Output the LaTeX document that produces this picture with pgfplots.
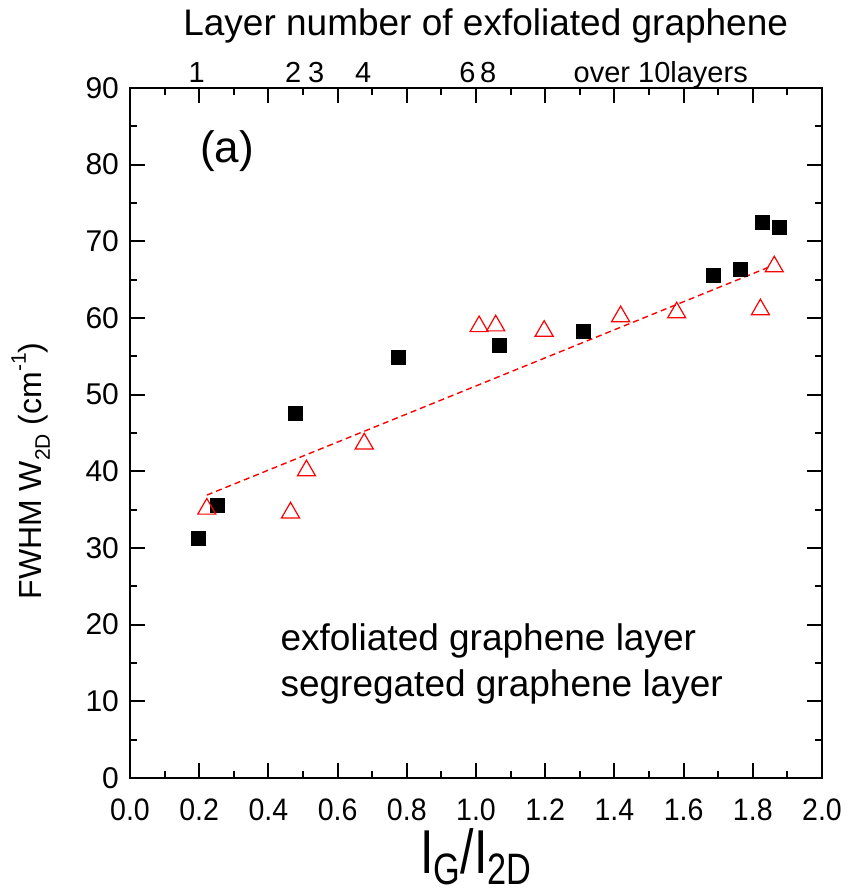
\documentclass[border=0pt]{standalone}
\usepackage{fontspec}
\setmainfont{Liberation Sans}
\newfontfamily\narrowfont[FakeStretch=0.78]{Liberation Sans}
\newfontfamily\tickfont[FakeStretch=0.92]{Liberation Sans}
\usepackage{pgfplots}
\pgfplotsset{compat=1.18}

\begin{document}
\begin{tikzpicture}
\begin{axis}[name=main,
  scale only axis, width=346pt, height=345pt,
  xmin=0, xmax=2, ymin=0, ymax=90,
  xtick={0,0.2,0.4,0.6,0.8,1.0,1.2,1.4,1.6,1.8,2.0},
  ytick={0,10,20,30,40,50,60,70,80,90},
  minor x tick num=1, minor y tick num=1,
  tick align=inside, major tick length=7.5pt, minor tick length=3.5pt,
  every tick/.style={line width=1pt, black},
  axis line style={line width=1.2pt},
  /pgf/number format/assume math mode=true,
  xticklabel={\pgfmathprintnumber[fixed,fixed zerofill,precision=1]{\tick}},
  xticklabel style={font=\tickfont\fontsize{15.5}{15.5}\selectfont, yshift=-7pt},
  yticklabel style={font=\fontsize{15}{15}\selectfont, xshift=-2pt},
  clip=false]

\addplot[red, line width=0.7pt, dash pattern=on 3pt off 2pt] coordinates {(0.222,36.9) (1.850,66.7)};

\addplot[only marks, mark=square*, mark size=3.5pt, black] coordinates {
(0.197,31.3) (0.253,35.5) (0.477,47.5) (0.776,54.8) (1.069,56.4)
(1.310,58.3) (1.687,65.6) (1.764,66.3) (1.829,72.5) (1.876,71.8)
};

\addplot[only marks, mark=triangle, mark size=5.2pt, red, mark options={line width=0.6pt}] coordinates {
(0.222,35.1) (0.464,34.6) (0.510,40.1) (0.677,43.6) (1.009,58.9) (1.057,59.0)
(1.197,58.3) (1.418,60.2) (1.580,60.7) (1.822,61.1) (1.862,66.7)
};

\node[anchor=west, inner sep=0pt, font=\fontsize{22}{22}\selectfont] at (axis cs:0.202,81.8) {(a)};
\node[anchor=base west, inner sep=0pt, font=\fontsize{18.5}{18.5}\selectfont] at (axis cs:0.434,16.6) {exfoliated graphene layer};
\node[anchor=base west, inner sep=0pt, font=\fontsize{18.5}{18.5}\selectfont] at (axis cs:0.434,10.6) {segregated graphene layer};

\node[anchor=base, font=\fontsize{18.5}{18.5}\selectfont] at ([yshift=26pt]rel axis cs:0.514,1) {Layer number of exfoliated graphene};
\node[anchor=base, font=\narrowfont\fontsize{31}{31}\selectfont] at ([yshift=-47.5pt]rel axis cs:0.5,0)
  {I\raisebox{-5.5pt}{\fontsize{22}{22}\selectfont G}/I\raisebox{-5.5pt}{\fontsize{22}{22}\selectfont 2D}};
\node[anchor=base, rotate=90, font=\fontsize{16}{16}\selectfont] at ([xshift=-44pt]rel axis cs:0,0.445)
  {FWHM W\raisebox{-4pt}{\fontsize{10.5}{10.5}\selectfont 2D} (cm\raisebox{8pt}{\fontsize{10.5}{10.5}\selectfont -1})};
\end{axis}

\begin{axis}[
  scale only axis, width=346pt, height=345pt,
  xmin=0, xmax=2, ymin=0, ymax=90,
  axis x line*=top, axis y line=none,
  axis line style={draw=none},
  xtick={0.193,0.472,0.538,0.674,0.975,1.035,1.534},
  xticklabels={1,2,3,4,6,8,over 10layers},
  major tick length=0pt,
  xticklabel style={font=\fontsize{14.5}{14.5}\selectfont, anchor=base, yshift=2.5pt}]
\end{axis}

\pgfresetboundingbox
\path[use as bounding box] (main.south west) ++(-65pt,-58.5pt) rectangle ++(425pt,447.5pt);
\end{tikzpicture}
\end{document}
